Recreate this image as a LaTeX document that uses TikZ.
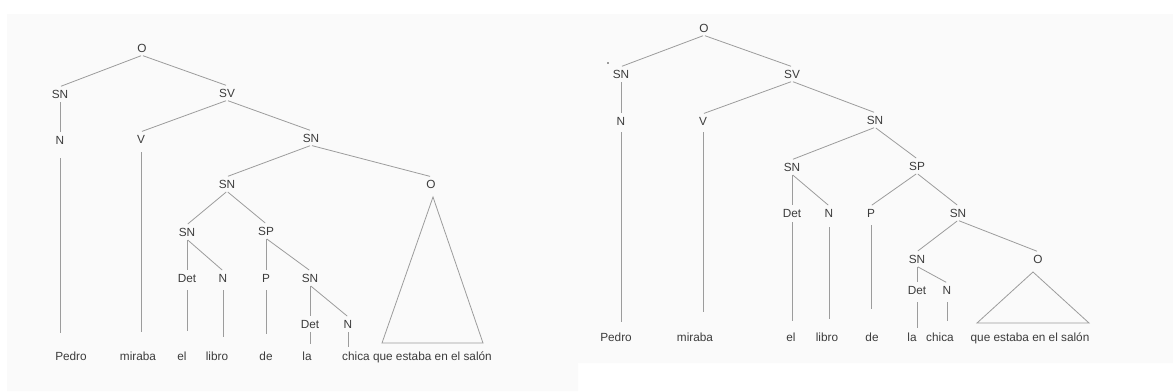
\documentclass[tikz,border=0pt]{standalone}
\usepackage{fontspec}
\setmainfont{Liberation Sans}
\definecolor{ink}{HTML}{3C3C3C}
\definecolor{rule}{HTML}{9C9C9C}
\definecolor{paper}{HTML}{FAFAFA}

\begin{document}
\begin{tikzpicture}[x=1pt,y=-1pt,
    every node/.style={text=ink,font=\fontsize{11.8}{14}\selectfont,inner sep=3pt},
    word/.style={anchor=base},
    branch/.style={draw=rule,line width=.8pt,shorten <=1pt,shorten >=1pt}]
  \useasboundingbox (0,0) rectangle (1173,391);
  \fill[paper] (7,14) -- (1173,14) -- (1173,363) -- (578,363) -- (578,391) -- (7,391) -- cycle;

  % first reading: the relative clause hangs on "el libro de la chica"
  \node (lO)    at (142,48)  {O};
  \node (lSN)   at (60,94)   {SN};
  \node (lSV)   at (227,93)  {SV};
  \node (lN)    at (60,140)  {N};
  \node (lV)    at (141,139) {V};
  \node (lSN2)  at (311,138) {SN};
  \node (lSN3)  at (227,184) {SN};
  \node (lO2)   at (431,184) {O};
  \node (lSN4)  at (187,232) {SN};
  \node (lSP)   at (266,231) {SP};
  \node (lDet)  at (187,278) {Det};
  \node (lN2)   at (223,278) {N};
  \node (lP)    at (266,278) {P};
  \node (lSN5)  at (310,278) {SN};
  \node (lDet2) at (310,324) {Det};
  \node (lN3)   at (348,324) {N};
  \node[word] (lw1) at (71,360)  {Pedro};
  \node[word] (lw2) at (138,360) {miraba};
  \node[word] (lw3) at (182,360) {el};
  \node[word] (lw4) at (217,360) {libro};
  \node[word] (lw5) at (266,360) {de};
  \node[word] (lw6) at (307,360) {la};
  \node[word] (lw7) at (417,360) {chica que estaba en el salón};

  \foreach \p/\c in {lO/lSN,lO/lSV,lSN/lN,lSV/lV,lSV/lSN2,lSN2/lSN3,lSN2/lO2,
      lSN3/lSN4,lSN3/lSP,lSN4/lDet,lSN4/lN2,lSP/lP,lSP/lSN5,lSN5/lDet2,lSN5/lN3}
    \draw[branch] (\p.south) -- (\c.north);
  \foreach \c/\w/\a/\b in {lN/lw1/11/15,lV/lw2/6/16,lDet/lw3/5/17,lN2/lw4/5/11,
      lP/lw5/5/14,lDet2/lw6/1/4,lN3/lw7/1/1}
    \draw[branch,shorten <=\a pt,shorten >=\b pt] (\c) -- (\c |- \w.north);
  \draw[branch] (433,197) -- (382,343) -- (483,343) -- cycle;

  % second reading: the relative clause hangs on "la chica" only
  \node (rO)    at (704,28)  {O};
  \node (rSN)   at (621,74)  {SN};
  \node (rSV)   at (792,74)  {SV};
  \node (rN)    at (621,121) {N};
  \node (rV)    at (703,121) {V};
  \node (rSN2)  at (875,120) {SN};
  \node (rSN3)  at (792,167) {SN};
  \node (rSP)   at (917,166) {SP};
  \node (rDet)  at (792,213) {Det};
  \node (rN2)   at (829,213) {N};
  \node (rP)    at (871,213) {P};
  \node (rSN4)  at (958,213) {SN};
  \node (rSN5)  at (917,259) {SN};
  \node (rO2)   at (1038,259) {O};
  \node (rDet2) at (917,290) {Det};
  \node (rN3)   at (947,290) {N};
  \node[word] (rw1) at (616,341)  {Pedro};
  \node[word] (rw2) at (695,341)  {miraba};
  \node[word] (rw3) at (791,341)  {el};
  \node[word] (rw4) at (827,341)  {libro};
  \node[word] (rw5) at (872,341)  {de};
  \node[word] (rw6) at (912,341)  {la};
  \node[word] (rw7) at (940,341)  {chica};
  \node[word] (rw8) at (1030,341) {que estaba en el salón};

  \foreach \p/\c in {rO/rSN,rO/rSV,rSN/rN,rSV/rV,rSV/rSN2,rSN2/rSN3,rSN2/rSP,
      rSN3/rDet,rSN3/rN2,rSP/rP,rSP/rSN4,rSN4/rSN5,rSN4/rO2,rSN5/rDet2,rSN5/rN3}
    \draw[branch] (\p.south) -- (\c.north);
  \foreach \c/\w/\a/\b in {rN/rw1/4/7,rV/rw2/4/17,rDet/rw3/2/8,rN2/rw4/7/10,
      rP/rw5/5/20,rDet2/rw6/5/1,rN3/rw7/5/8}
    \draw[branch,shorten <=\a pt,shorten >=\b pt] (\c) -- (\c |- \w.north);
  \draw[branch] (1033,272) -- (977,323) -- (1089,323) -- cycle;
  \fill[rule] (607,62) rectangle (609,64);
\end{tikzpicture}
\end{document}
